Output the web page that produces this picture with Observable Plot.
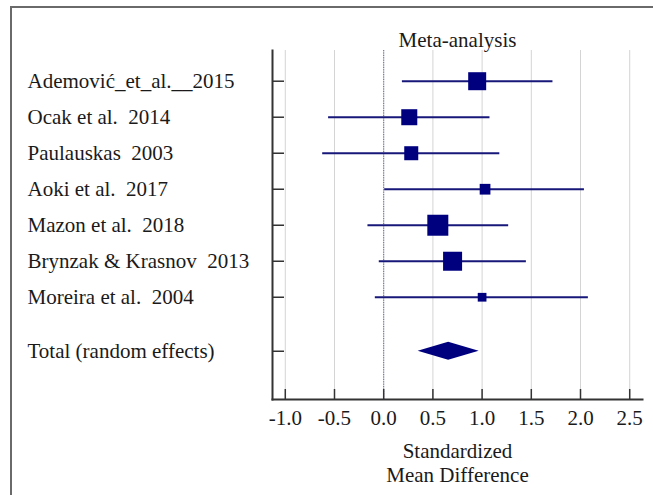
<!DOCTYPE html>
<html>
<head>
<meta charset="utf-8">
<script src="https://cdn.jsdelivr.net/npm/d3@7"></script>
<script src="https://cdn.jsdelivr.net/npm/@observablehq/plot@0.6"></script>
<style>
  html, body { margin: 0; padding: 0; background: #fff; overflow: hidden; }
  #wrap { position: relative; width: 653px; height: 495px; overflow: hidden; }
  #border { position: absolute; left: 10px; top: 6px; width: 800px; height: 700px; border: 2px solid #6a6a6a; box-sizing: border-box; }
  #chart { position: absolute; left: 0; top: 0; }
  #chart svg, #chart svg text { font-family: "Liberation Serif", "Times New Roman", serif !important; }
</style>
</head>
<body>
<div id="wrap"><div id="border"></div><div id="chart"></div></div>
<script>
// ---- data ----
const studies = ["Ademović_et_al.__2015", "Ocak et al.  2014", "Paulauskas  2003", "Aoki et al.  2017", "Mazon et al.  2018", "Brynzak & Krasnov  2013", "Moreira et al.  2004"];
const estimates = [0.95, 0.26, 0.28, 1.03, 0.55, 0.70, 1.00];
const lowerCI  = [0.19, -0.56, -0.62, 0.01, -0.16, -0.045, -0.085];
const upperCI  = [1.72, 1.08, 1.18, 2.04, 1.27, 1.45, 2.08];
const weights  = [18.3, 14.5, 11.1, 6.5, 24.9, 20.4, 4.3];
const totalLabel = "Total (random effects)";
const totalEstimate = 0.66;
const totalLower = 0.35;
const totalUpper = 0.97;
const xTicks = [-1.0, -0.5, 0.0, 0.5, 1.0, 1.5, 2.0, 2.5];
const titleText = "Meta-analysis";
const xLabel = "Standardized\nMean Difference";

const rows = studies.map((s, i) => ({row: i + 1, label: s, est: estimates[i], lo: lowerCI[i], hi: upperCI[i], w: weights[i]}));
const totalRow = studies.length + 1.5;
const labelRows = [...rows, {row: totalRow, label: totalLabel}];

const navy = "#00007f";
const serif = "Liberation Serif, Times New Roman, serif";
const fs = 21;

function diamond(index, scales) {
  const xl = scales.x(totalLower), xm = scales.x(totalEstimate), xr = scales.x(totalUpper), y = scales.y(totalRow);
  const h = 9;
  return d3.create("svg:path")
    .attr("d", `M${xl},${y}L${xm},${y - h}L${xr},${y}L${xm},${y + h}Z`)
    .attr("fill", navy)
    .node();
}

const chart = Plot.plot({
  width: 653,
  height: 495,
  marginLeft: 272,
  marginRight: 11,
  marginTop: 50,
  marginBottom: 96,
  style: {fontFamily: serif, fontSize: fs + "px", color: "#1a1a1a", background: "transparent"},
  x: {domain: [-1.13, 2.63], label: null},
  y: {domain: [0.147, 9.84], reverse: true, label: null},
  r: {type: "sqrt", domain: [0, 24.9], range: [0, 21 / Math.sqrt(Math.PI)]},
  marks: [
    Plot.gridX(xTicks, {stroke: "#d4d4d4", strokeOpacity: 1, strokeWidth: 1}),
    Plot.ruleX([0], {stroke: "#5a6aa8", strokeWidth: 1, strokeDasharray: "1.2,1.2"}),
    Plot.ruleY(rows, {y: "row", x1: "lo", x2: "hi", stroke: "#17177a", strokeWidth: 2}),
    Plot.dot(rows, {x: "est", y: "row", r: "w", symbol: "square", fill: navy, stroke: null}),
    diamond,
    Plot.axisY(labelRows.map(d => d.row), {anchor: "left", tickSize: -12, tickFormat: () => "", strokeWidth: 1.5, stroke: "#333", label: null}),
    Plot.text(labelRows, {y: "row", text: "label", frameAnchor: "left", textAnchor: "start", dx: -245, fontSize: fs, fontFamily: serif, fill: "#1a1a1a"}),
    Plot.axisX(xTicks, {anchor: "bottom", tickSize: -10, tickFormat: () => "", strokeWidth: 1.5, stroke: "#333", label: null}),
    Plot.axisX(xTicks, {anchor: "bottom", tickSize: 0, tickPadding: 11, tickFormat: d => d.toFixed(1), fontSize: fs, fontFamily: serif, fill: "#1a1a1a", label: null}),
    Plot.frame({anchor: "left", stroke: "#333", strokeWidth: 2}),
    Plot.frame({anchor: "bottom", stroke: "#333", strokeWidth: 2}),
    Plot.text([titleText], {frameAnchor: "top", dy: -18, fontSize: fs, fontFamily: serif, fill: "#1a1a1a"}),
    Plot.text([xLabel], {frameAnchor: "bottom", lineAnchor: "top", dy: 42, lineHeight: 1.12, fontSize: fs, fontFamily: serif, fill: "#1a1a1a"})
  ]
});
document.getElementById("chart").appendChild(chart);
</script>
</body>
</html>
